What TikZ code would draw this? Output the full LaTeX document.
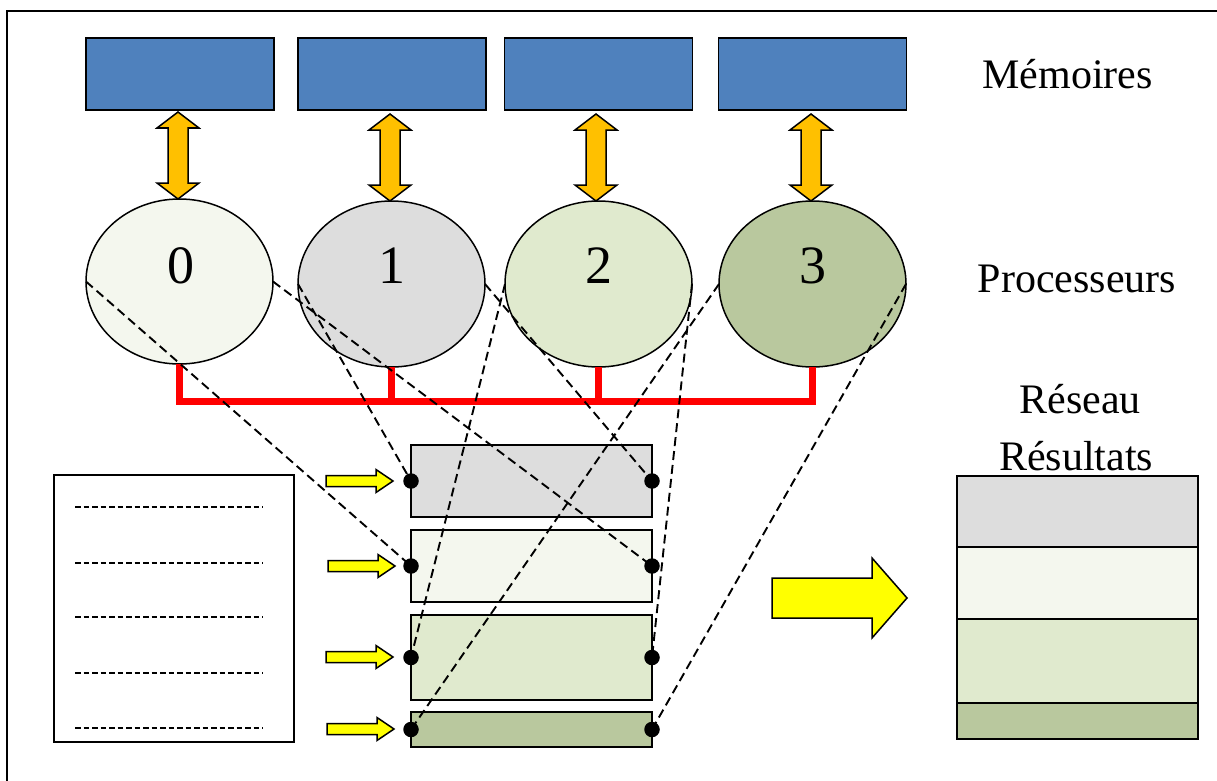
\documentclass[tikz,border=0pt]{standalone}
\usepackage{fontspec}
\setmainfont{Liberation Serif}
\usetikzlibrary{shapes.geometric}
\definecolor{memblue}{HTML}{4F81BD}
\definecolor{arrorange}{HTML}{FFC000}
\definecolor{arryellow}{HTML}{FFFF00}
\definecolor{busred}{HTML}{FF0000}
\definecolor{fillA}{HTML}{F4F7EE}
\definecolor{fillB}{HTML}{DDDDDD}
\definecolor{fillC}{HTML}{E0EACE}
\definecolor{fillD}{HTML}{B9C89E}
\newcommand\dblarr[3]{%
  \draw[dblarrow] (#1,#2) -- (#1+21,#2+16) -- (#1+10,#2+16) -- (#1+10,#3-16) -- (#1+21,#3-16) -- (#1,#3) -- (#1-21,#3-16) -- (#1-10,#3-16) -- (#1-10,#2+16) -- (#1-21,#2+16) -- cycle;}
\newcommand\rarr[6]{%
  \draw[yarrow] (#1,#3-#4) -- (#2-#6,#3-#4) -- (#2-#6,#3-#5) -- (#2,#3) -- (#2-#6,#3+#5) -- (#2-#6,#3+#4) -- (#1,#3+#4) -- cycle;}
\begin{document}
\begin{tikzpicture}[x=1pt,y=-1pt,
  membox/.style={draw=black, line width=1.4, fill=memblue, minimum width=188, minimum height=72, inner sep=0, outer sep=0},
  dblarrow/.style={draw=black, line width=1.5, fill=arrorange, line join=miter},
  yarrow/.style={draw=black, line width=1.5, fill=arryellow, line join=miter},
  proc/.style={ellipse, draw=black, line width=1.5, minimum width=187, minimum height=166, inner sep=0, outer sep=0},
  digit/.style={font=\fontsize{54}{60}\selectfont, anchor=base, inner sep=0},
  lab/.style={font=\fontsize{42}{48}\selectfont, anchor=base, inner sep=0},
  bus/.style={draw=busred, line width=7, line join=miter},
  databox/.style={draw=black, line width=1.9, minimum width=241, inner sep=0, outer sep=0},
  resbox/.style={draw=black, line width=1.9, minimum width=241, inner sep=0, outer sep=0},
  conn/.style={draw=black, line width=1.9, dash pattern=on 9pt off 5pt},
  listdash/.style={draw=black, line width=1.9, dash pattern=on 5.5pt off 3pt},
  dot/.style={circle, fill=black, minimum size=15.5, inner sep=0}]
\useasboundingbox (0,0) rectangle (1217,781);
% frame (cut at right and bottom)
\draw[line width=2] (7,781) -- (7,11) -- (1217,11);
% memories
\node[membox] (m0) at (180,74) {};
\node[membox] (m1) at (392,74) {};
\node[membox] (m2) at (598.5,74) {};
\node[membox] (m3) at (812.7,74) {};
% double arrows
\dblarr{178}{112}{199}
\dblarr{390}{114}{201}
\dblarr{596}{114}{201}
\dblarr{811}{114}{201}
% processors
\node[proc, fill=fillA, minimum height=165] (p0) at (179.5,281.5) {};
\node[proc, fill=fillB] (p1) at (391.5,284) {};
\node[proc, fill=fillC] (p2) at (598.5,284) {};
\node[proc, fill=fillD] (p3) at (812.5,284) {};
\node[digit] (d0) at (180.5,283) {0};
\node[digit] (d1) at (391.5,283) {1};
\node[digit] (d2) at (598.5,283) {2};
\node[digit] (d3) at (812.5,283) {3};
% network bus
\coordinate (busL) at (179.5,401);
\coordinate (busR) at (812.5,401);
\draw[bus] (p0.south) -- (busL) -- (busR) -- (p3.south);
\draw[bus] (p1.south) -- (p1.south |- busL);
\draw[bus] (p2.south) -- (p2.south |- busL);
% data list box
\node[draw=black, line width=1.9, minimum width=240, minimum height=267, inner sep=0] (list) at (174,608.5) {};
\foreach \yy in {507,563,617,673,728} \draw[listdash] (75,\yy) -- (263,\yy);
% data blocks
\node[databox, fill=fillB, minimum height=72] (bA) at (531.5,481) {};
\node[databox, fill=fillA, minimum height=72] (bB) at (531.5,566) {};
\node[databox, fill=fillC, minimum height=85] (bC) at (531.5,657.5) {};
\node[databox, fill=fillD, minimum height=35] (bD) at (531.5,729.5) {};
% small arrows
\rarr{326}{393}{481}{5.5}{11.5}{17}
\rarr{328}{395}{566}{5.5}{11.5}{17}
\rarr{326}{393}{657}{5.5}{11.5}{17}
\rarr{327}{394}{729}{5.5}{11.5}{17}
% big arrow
\rarr{772}{907}{598}{20}{40}{35}
% results
\node[resbox, fill=fillB, minimum height=71] (r0) at (1077.5,511.5) {};
\node[resbox, fill=fillA, minimum height=72] (r1) at (1077.5,583) {};
\node[resbox, fill=fillC, minimum height=84.5] (r2) at (1077.5,661) {};
\node[resbox, fill=fillD, minimum height=36] (r3) at (1077.5,721) {};
% labels
\node[lab] (tmem) at (1067.5,89) {Mémoires};
\node[lab] (tproc) at (1077,292) {Processeurs};
\node[lab] (tres) at (1080,413) {Réseau};
\node[lab] (trslt) at (1076,470) {Résultats};
% dashed connectors
\draw[conn] (p0.west) -- (bB.west);
\draw[conn] (p0.east) -- (bB.east);
\draw[conn] (p1.west) -- (bA.west);
\draw[conn] (p1.east) -- (bA.east);
\draw[conn] (p2.west) -- (bC.west);
\draw[conn] (p2.east) -- (bC.east);
\draw[conn] (p3.west) -- (bD.west);
\draw[conn] (p3.east) -- (bD.east);
% dots
\foreach \b in {bA,bB,bC,bD} {
  \node[dot] at (\b.west) {};
  \node[dot] at (\b.east) {};
}
\end{tikzpicture}
\end{document}
